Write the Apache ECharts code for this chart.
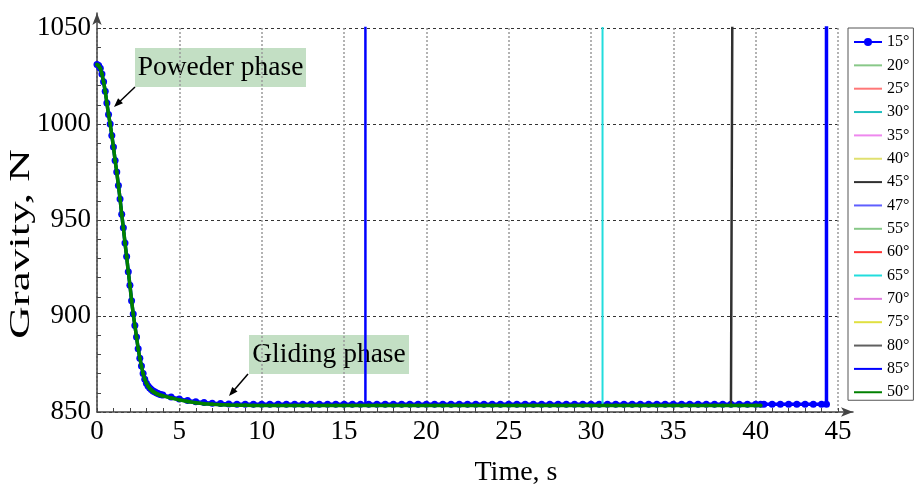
<!DOCTYPE html>
<html><head><meta charset="utf-8">
<script src="https://cdn.jsdelivr.net/npm/echarts@6/dist/echarts.min.js"></script>
<style>html,body{margin:0;padding:0;background:#fff}#c{width:916px;height:492px}</style>
</head><body><div id="c"></div>
<script>
// ---- data ----
const time = [0,0.1,0.2,0.3,0.4,0.5,0.6,0.7,0.8,0.9,1,1.1,1.2,1.3,1.4,1.5,1.6,1.7,1.8,1.9,2,
  2.1,2.2,2.3,2.4,2.5,2.6,2.7,2.8,2.9,3,3.1,3.2,3.3,3.4,3.5,3.6,3.7,3.8,3.9,4,
  4.5,5,5.5,6,6.5,7,7.5,8,8.5,9,9.5,10,10.5,11,11.5,12,12.5,13,13.5,14,14.5,15,15.5,16,16.5,17,17.5,18,18.5,19,19.5,20,
  20.5,21,21.5,22,22.5,23,23.5,24,24.5,25,25.5,26,26.5,27,27.5,28,28.5,29,29.5,30,30.5,31,31.5,32,32.5,33,33.5,34,34.5,35,
  35.5,36,36.5,37,37.5,38,38.5,39,39.5,40,40.3,40.5,41,41.5,42,42.5,43,43.5,44,44.3];
const gravity15 = [1031,1030.5,1029,1026,1022,1017,1011,1005,1000,994,988,981,975,968,961,953,946,938,931,923,916,
  908,901,895,889,883,878,874,870,867,865,863.6,862.5,861.7,861,860.5,860,859.6,859.3,859,858.8,
  857.8,856.8,856,855.4,855,854.6,854.4,854.2,854.1,854.1,854,854,
  854,854,854,854,854,854,854,854,854,854,854,854,854,854,854,854,854,854,854,854,
  854,854,854,854,854,854,854,854,854,854,854,854,854,854,854,854,854,854,854,854,
  854,854,854,854,854,854,854,854,854,854,854,854,854,854,854,854,854,854,854,854,
  854,854,854,854,854,854,854,854,854,854];
const gravity50 = [1031,1030.5,1029,1026,1022,1017,1011,1005,1000,994,988,981,975,968,961,953,946,938,931,923,916,
  908,901,895,889,883,878,874,870,867,865,863.4,862.3,861.4,860.7,860.1,859.6,859.2,858.9,858.6,858.4,
  857.3,856.3,855.5,854.8,854.3,854,853.8,853.6,853.5,853.5,853.4,853.4,
  853.4,853.4,853.4,853.4,853.4,853.4,853.4,853.4,853.4,853.4,853.4,853.4,853.4,853.4,853.4,853.4,853.4,853.4,853.4,853.4,
  853.4,853.4,853.4,853.4,853.4,853.4,853.4,853.4,853.4,853.4,853.4,853.4,853.4,853.4,853.4,853.4,853.4,853.4,853.4,853.4,
  853.4,853.4,853.4,853.4,853.4,853.4,853.4,853.4,853.4,853.4,853.4,853.4,853.4,853.4,853.4,853.4,853.4,853.4,853.4,853.4,
  853.4];
const seriesNames = ['15°','20°','25°','30°','35°','40°','45°','47°','55°','60°','65°','70°','75°','80°','85°','50°'];
const seriesBase  = ['g15','g50','g50','g50','g50','g50','g50','g50','g50','g50','g50','g50','g50','g50','g50','g50'];
const seriesEnd   = [44.3,40,40,40,40,40,38.6,40,40,40,30.7,40,40,40,16.3,40.3];
const seriesJump  = [true,false,false,false,false,false,true,false,false,false,true,false,false,false,true,false];
const jumpTop = 1100;
const xTicks = {min:0, max:45, interval:5};
const yTicks = {min:850, max:1050, interval:50};

// ---- styles ----
const styles = {
  '15°':{color:'#0000ff',width:3.5,symbol:'circle',size:7,showInLegend:true,z:2},
  '20°':{color:'#88c888',width:1.5},
  '25°':{color:'#ff7777',width:1.5},
  '30°':{color:'#1fbfbf',width:3},
  '35°':{color:'#ee88ee',width:1.5},
  '40°':{color:'#e0e070',width:1.5},
  '45°':{color:'#303030',width:2.5,z:3},
  '47°':{color:'#5f5fff',width:1.5},
  '55°':{color:'#88c888',width:1.5},
  '60°':{color:'#ff3333',width:1.5},
  '65°':{color:'#22dddd',width:2,z:3},
  '70°':{color:'#e07ee0',width:1.5},
  '75°':{color:'#e0e040',width:1.5},
  '80°':{color:'#606060',width:1.5},
  '85°':{color:'#0000ff',width:2.5,symbol:'circle',size:3,z:3},
  '50°':{color:'#008000',width:3.5,symbol:'circle',size:4,z:4}
};
const FONT = '"Liberation Serif","Times New Roman",serif';

function buildData(base, end, jump) {
  const pts = [];
  for (let k = 0; k < time.length; k++) {
    if (time[k] > end || base[k] === undefined) break;
    pts.push([time[k], base[k]]);
  }
  const last = pts[pts.length - 1];
  if (last[0] < end) pts.push([end, last[1]]);
  if (jump) pts.push([end, jumpTop]);
  return pts;
}

const series = seriesNames.map((name, i) => {
  const st = styles[name];
  const base = seriesBase[i] === 'g15' ? gravity15 : gravity50;
  return {
    name, type:'line', xAxisIndex:0, yAxisIndex:0, z: st.z || 2,
    data: buildData(base, seriesEnd[i], seriesJump[i]),
    color: st.color,
    lineStyle:{color:st.color, width:st.width},
    itemStyle:{color:st.color, borderWidth:0},
    symbol: st.symbol || 'none', symbolSize: st.size || 0,
    showSymbol: !!st.symbol, showAllSymbol: true,
    clip: true, silent: true, emphasis:{disabled:true}, animation:false
  };
});

function arrowGraphic(x1, y1, x2, y2) {
  const dx = x2 - x1, dy = y2 - y1, L = Math.hypot(dx, dy);
  const ux = dx / L, uy = dy / L, nx = -uy, ny = ux;
  const hl = 9, hw = 3.5;
  const bx = x2 - hl * ux, by = y2 - hl * uy;
  return [
    {type:'line', shape:{x1, y1, x2: bx + ux, y2: by + uy}, style:{stroke:'#000', lineWidth:1.5}, silent:true},
    {type:'polygon', shape:{points:[[x2,y2],[bx+hw*nx,by+hw*ny],[bx-hw*nx,by-hw*ny]]}, style:{fill:'#000'}, silent:true}
  ];
}

const chart = echarts.init(document.getElementById('c'), null, {renderer:'canvas'});
chart.setOption({
  animation:false,
  backgroundColor:'#fff',
  grid:[
    {left:97, right:78, top:28, bottom:80, containLabel:false, outerBoundsMode:'none'},
    {left:97, right:63, top:13, bottom:80, containLabel:false, outerBoundsMode:'none'}
  ],
  legend:{
    orient:'vertical', left:848, top:28,
    padding:[6,4,0,5], itemGap:7.35, itemWidth:28, itemHeight:10,
    borderColor:'#555', borderWidth:1, backgroundColor:'#fff',
    textStyle:{fontFamily:FONT, fontSize:16, lineHeight:16, color:'#000'},
    data: seriesNames.map(n => ({name:n, itemStyle: styles[n].showInLegend ? {} : {opacity:0}})),
    selectedMode:false
  },
  xAxis:[
    {type:'value', gridIndex:0, min:xTicks.min, max:xTicks.max, interval:xTicks.interval,
     axisLine:{show:false},
     axisTick:{show:true, inside:true, length:4, lineStyle:{color:'#444'}},
     minorTick:{show:true, splitNumber:5, length:4, lineStyle:{color:'#444'}},
     axisLabel:{fontFamily:FONT, fontSize:27, color:'#000', margin:6, formatter: v => String(v)},
     splitLine:{show:true, lineStyle:{color:'#9a9a9a', type:[2,2], width:1.5}}},
    {type:'value', gridIndex:1, min:0, max:1,
     axisLine:{show:true, onZero:false, symbol:['none','arrow'], symbolSize:[7,12], lineStyle:{color:'#444', width:1.5}},
     axisTick:{show:false}, axisLabel:{show:false}, splitLine:{show:false}}
  ],
  yAxis:[
    {type:'value', gridIndex:0, min:yTicks.min, max:yTicks.max, interval:yTicks.interval,
     axisLine:{show:false},
     axisTick:{show:true, inside:true, length:4, lineStyle:{color:'#444'}},
     minorTick:{show:true, splitNumber:5, length:4, lineStyle:{color:'#444'}},
     axisLabel:{fontFamily:FONT, fontSize:27, color:'#000', margin:6, formatter: v => String(v)},
     splitLine:{show:true, lineStyle:{color:'#333', type:[3,3], width:1}}},
    {type:'value', gridIndex:1, min:0, max:1,
     axisLine:{show:true, onZero:false, symbol:['none','arrow'], symbolSize:[7,12], lineStyle:{color:'#444', width:1.5}},
     axisTick:{show:false}, axisLabel:{show:false}, splitLine:{show:false}}
  ],
  graphic:[
    {type:'text', x:21, y:244, rotation:Math.PI/2, scaleX:1.5, silent:true,
     style:{text:'Gravity, N', font:'30px ' + FONT, fill:'#000', align:'center', verticalAlign:'middle', textAlign:'center', textVerticalAlign:'middle'}},
    {type:'text', x:516, y:473, silent:true,
     style:{text:'Time, s', font:'28px ' + FONT, fill:'#000', align:'center', verticalAlign:'middle', textAlign:'center', textVerticalAlign:'middle'}},
    {type:'rect', shape:{x:135, y:48, width:171, height:39}, style:{fill:'#c3dfc4'}, silent:true},
    {type:'text', x:220.5, y:67.5, silent:true,
     style:{text:'Poweder phase', font:'27.5px ' + FONT, fill:'#000', align:'center', verticalAlign:'middle', textAlign:'center', textVerticalAlign:'middle'}},
    {type:'rect', shape:{x:249, y:335, width:160, height:39}, style:{fill:'#c3dfc4'}, silent:true},
    {type:'text', x:329, y:354.5, silent:true,
     style:{text:'Gliding phase', font:'27.5px ' + FONT, fill:'#000', align:'center', verticalAlign:'middle', textAlign:'center', textVerticalAlign:'middle'}},
    ...arrowGraphic(135, 87, 114, 107),
    ...arrowGraphic(248, 374, 229, 396)
  ],
  series
});
</script>
</body></html>
